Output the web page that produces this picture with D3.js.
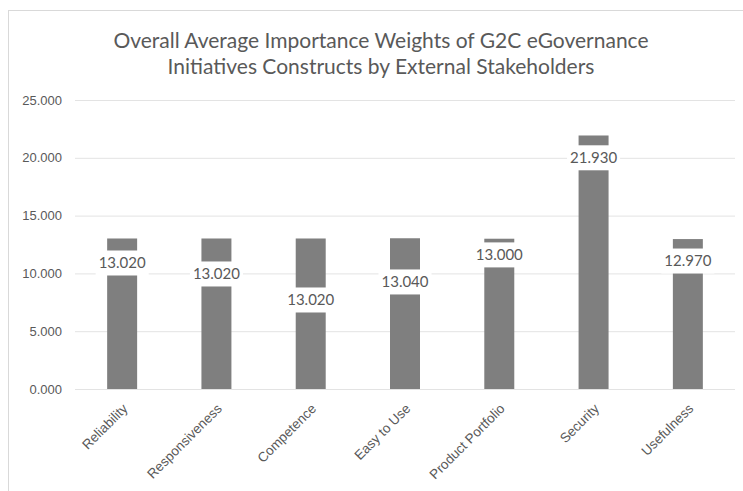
<!DOCTYPE html>
<html>
<head>
<meta charset="utf-8">
<script src="https://cdn.jsdelivr.net/npm/d3@7"></script>
<style>
  body { margin: 0; background: #fff; }
  svg { display: block; font-family: Lato, "Open Sans", sans-serif; }
</style>
</head>
<body>
<svg id="chart" width="743" height="491"></svg>
<script>
// Constructs and their overall average importance weights
const categories = ["Reliability", "Responsiveness", "Competence", "Easy to Use", "Product Portfolio", "Security", "Usefulness"];
const weights = [13.020, 13.020, 13.020, 13.040, 13.000, 21.930, 12.970];
// Where each value label sits along the bar (axis units)
const labelAt = [10.9, 9.95, 7.7, 9.26, 11.6, 20.0, 11.07];
const yTicks = [0, 5, 10, 15, 20, 25];
const titleLines = ["Overall Average Importance Weights of G2C eGovernance", "Initiatives Constructs by External Stakeholders"];

const svg = d3.select("#chart");
const textColor = "#595959";

// chart area frame
svg.append("rect")
  .attr("x", 8.5).attr("y", 10.5)
  .attr("width", 800).attr("height", 600)
  .attr("fill", "#fff").attr("stroke", "#d9d9d9").attr("stroke-width", 1);

const x = d3.scaleBand().domain(categories).range([75, 735]).paddingInner(0.682).paddingOuter(0.341);
const y = d3.scaleLinear().domain([0, 25]).range([389, 100]);

// title
svg.append("g").selectAll("text").data(titleLines).join("text")
  .attr("x", 381).attr("y", (d, i) => 48 + i * 26)
  .attr("text-anchor", "middle")
  .attr("fill", textColor)
  .style("font-size", "21px")
  .text(d => d);

// gridlines and y tick labels
const yAxis = d3.axisLeft(y).tickValues(yTicks).tickFormat(d3.format(".3f"))
  .tickSize(-(735 - 75)).tickPadding(13);
const gy = svg.append("g").attr("transform", "translate(75,0)").call(yAxis);
gy.select(".domain").remove();
gy.selectAll(".tick line").attr("stroke", "#e3e3e3").attr("stroke-width", 1);
gy.selectAll(".tick text").attr("fill", textColor).style("font-size", "13px");

// bars
svg.append("g").selectAll("rect").data(weights).join("rect")
  .attr("x", (d, i) => x(categories[i]))
  .attr("y", d => y(d))
  .attr("width", x.bandwidth())
  .attr("height", d => y(0) - y(d))
  .attr("fill", "#7f7f7f");

// x category labels, rotated
const xAxis = d3.axisBottom(x).tickSize(0).tickPadding(0);
const gx = svg.append("g").attr("transform", "translate(0,389)").call(xAxis);
gx.select(".domain").remove();
gx.selectAll(".tick text")
  .attr("fill", textColor)
  .style("font-size", "13.5px")
  .attr("text-anchor", "end")
  .attr("dy", "0.35em")
  .attr("transform", "translate(3,17) rotate(-45)");

// value labels on white boxes
const labels = svg.append("g").selectAll("g").data(weights).join("g")
  .attr("transform", (d, i) => `translate(${x(categories[i]) + x.bandwidth() / 2},${y(labelAt[i])})`);
labels.append("rect").attr("fill", "#fff");
labels.append("text")
  .attr("text-anchor", "middle")
  .attr("dy", "0.36em")
  .attr("fill", textColor)
  .style("font-size", "15px")
  .text(d => d3.format(".3f")(d));
labels.each(function () {
  const t = d3.select(this).select("text").node().getComputedTextLength();
  d3.select(this).select("rect")
    .attr("x", -t / 2 - 3).attr("y", -12.5)
    .attr("width", t + 6).attr("height", 25);
});
</script>
</body>
</html>
